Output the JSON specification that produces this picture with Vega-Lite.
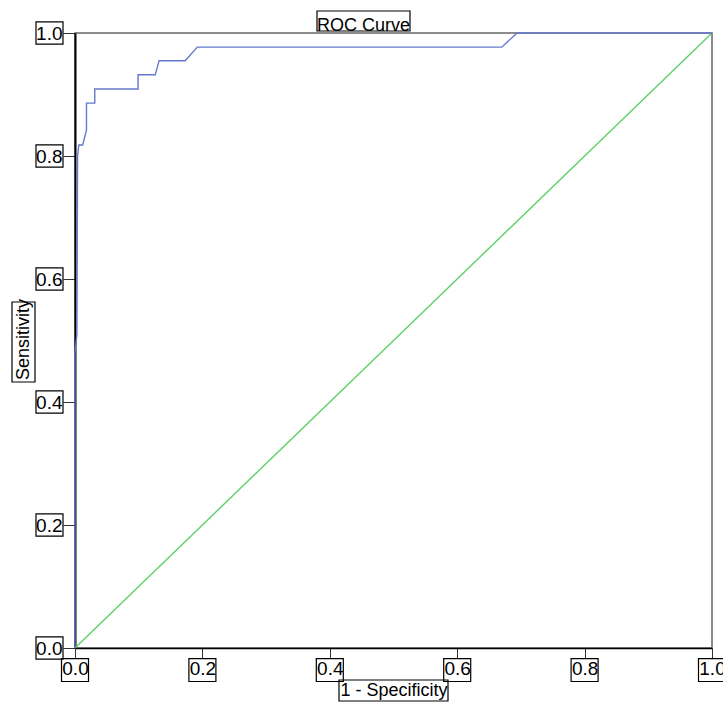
{
  "$schema": "https://vega.github.io/schema/vega-lite/v6.json",
  "autosize": {"type": "none"},
  "padding": {"left": 75, "top": 33, "right": 11, "bottom": 54},
  "width": 637,
  "height": 615,
  "background": "white",
  "title": {"text": "ROC Curve", "font": "Liberation Sans Narrow, Liberation Sans, Arial", "fontSize": 18, "fontWeight": "normal", "color": "black", "dx": -30, "dy": 46, "offset": 2, "baseline": "bottom", "frame": "group"},
  "config": {
    "view": {"stroke": "#666", "strokeWidth": 1.5},
    "axis": {"grid": false, "labelFont": "Liberation Sans Narrow, Liberation Sans, Arial", "labelFontSize": 19, "labelColor": "black", "titleFont": "Liberation Sans Narrow, Liberation Sans, Arial", "titleFontSize": 18, "titleFontWeight": "normal", "titleColor": "black", "domainColor": "black", "tickColor": "#333", "labelFlush": false, "labelOverlap": false, "zindex": 1}
  },
  "datasets": {
    "roc": [
      {"fpr": 0.0, "tpr": 0.0},
      {"fpr": 0.0, "tpr": 0.48},
      {"fpr": 0.003, "tpr": 0.51},
      {"fpr": 0.004, "tpr": 0.80},
      {"fpr": 0.006, "tpr": 0.818},
      {"fpr": 0.012, "tpr": 0.818},
      {"fpr": 0.018, "tpr": 0.842},
      {"fpr": 0.018, "tpr": 0.886},
      {"fpr": 0.031, "tpr": 0.886},
      {"fpr": 0.031, "tpr": 0.909},
      {"fpr": 0.099, "tpr": 0.909},
      {"fpr": 0.099, "tpr": 0.932},
      {"fpr": 0.126, "tpr": 0.932},
      {"fpr": 0.132, "tpr": 0.955},
      {"fpr": 0.173, "tpr": 0.955},
      {"fpr": 0.192, "tpr": 0.977},
      {"fpr": 0.670, "tpr": 0.977},
      {"fpr": 0.694, "tpr": 1.0},
      {"fpr": 1.0, "tpr": 1.0}
    ],
    "ref": [
      {"fpr": 0.0, "tpr": 0.0},
      {"fpr": 1.0, "tpr": 1.0}
    ],
    "ticks": [
      {"v": 0.0}, {"v": 0.2}, {"v": 0.4}, {"v": 0.6}, {"v": 0.8}, {"v": 1.0}
    ],
    "mid": [{"v": 0.5}]
  },
  "layer": [
    {
      "data": {"name": "ref"},
      "mark": {"type": "line", "color": "#5fd068", "strokeWidth": 1.4},
      "encoding": {
        "x": {"field": "fpr", "type": "quantitative", "scale": {"domain": [0, 1], "nice": false},
              "axis": {"values": [0, 0.2, 0.4, 0.6, 0.8, 1], "format": ".1f", "title": "1 - Specificity", "tickSize": 10, "labelPadding": 1, "domainWidth": 1.5, "titleX": 318.5, "titleY": 42, "titleBaseline": "middle", "titleAnchor": "middle"}},
        "y": {"field": "tpr", "type": "quantitative", "scale": {"domain": [0, 1], "nice": false},
              "axis": {"values": [0, 0.2, 0.4, 0.6, 0.8, 1], "format": ".1f", "title": "Sensitivity", "tickSize": 12, "labelPadding": 1, "domainWidth": 2, "titleX": -52, "titleY": 306, "titleBaseline": "middle", "titleAngle": -90, "titleAlign": "center"}}
      }
    },
    {
      "data": {"name": "roc"},
      "mark": {"type": "line", "color": "#6479cf", "strokeWidth": 1.4},
      "encoding": {
        "x": {"field": "fpr", "type": "quantitative"},
        "y": {"field": "tpr", "type": "quantitative"}
      }
    },
    {
      "data": {"name": "ticks"},
      "mark": {"type": "point", "shape": "M-1,-0.85H1V0.85H-1Z", "filled": false, "stroke": "black", "strokeWidth": 1.2, "opacity": 1, "size": 729, "yOffset": 22, "clip": false},
      "encoding": {
        "x": {"field": "v", "type": "quantitative"},
        "y": {"datum": 0}
      }
    },
    {
      "data": {"name": "ticks"},
      "mark": {"type": "point", "shape": "M-1,-0.82H1V0.82H-1Z", "filled": false, "stroke": "black", "strokeWidth": 1.2, "opacity": 1, "size": 729, "xOffset": -25.5, "clip": false},
      "encoding": {
        "x": {"datum": 0},
        "y": {"field": "v", "type": "quantitative"}
      }
    },
    {
      "data": {"name": "mid"},
      "mark": {"type": "point", "shape": "M-1,-0.193H1V0.193H-1Z", "filled": false, "stroke": "black", "strokeWidth": 1.2, "opacity": 1, "size": 11881, "yOffset": 42.5, "clip": false},
      "encoding": {
        "x": {"field": "v", "type": "quantitative"},
        "y": {"datum": 0}
      }
    },
    {
      "data": {"name": "mid"},
      "mark": {"type": "point", "shape": "M-0.2875,-1H0.2875V1H-0.2875Z", "filled": false, "stroke": "black", "strokeWidth": 1.2, "opacity": 1, "size": 6400, "xOffset": -51.5, "yOffset": 1.5, "clip": false},
      "encoding": {
        "x": {"datum": 0},
        "y": {"field": "v", "type": "quantitative"}
      }
    },
    {
      "data": {"name": "mid"},
      "mark": {"type": "point", "shape": "M-1,-0.215H1V0.215H-1Z", "filled": false, "stroke": "black", "strokeWidth": 1.2, "opacity": 1, "size": 8649, "xOffset": -30, "yOffset": -12, "clip": false},
      "encoding": {
        "x": {"field": "v", "type": "quantitative"},
        "y": {"datum": 1}
      }
    }
  ]
}
